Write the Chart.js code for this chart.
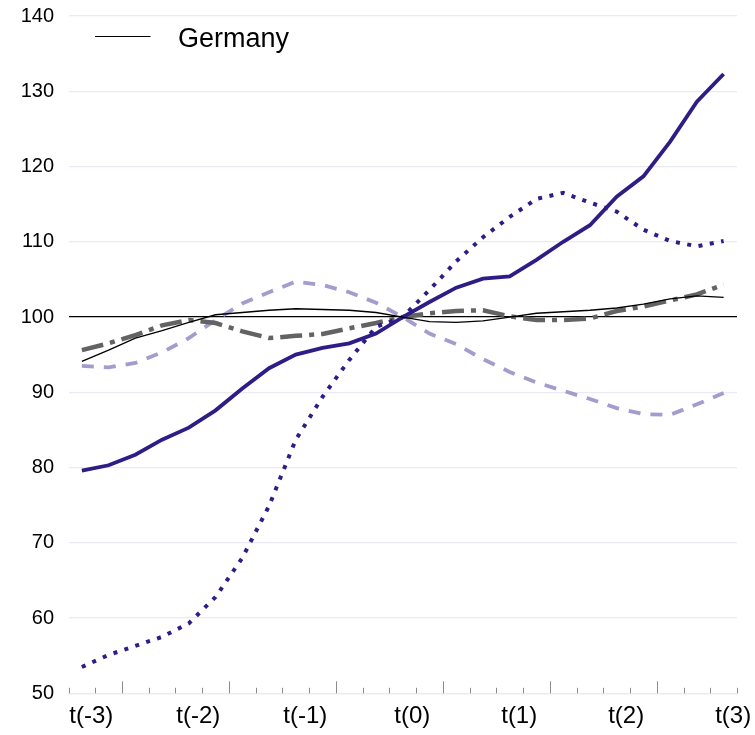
<!DOCTYPE html>
<html>
<head>
<meta charset="utf-8">
<script src="https://cdn.jsdelivr.net/npm/chart.js@4.4.1/dist/chart.umd.min.js"></script>
<style>
html,body{margin:0;padding:0;background:#ffffff;}
#wrap{width:755px;height:735px;position:relative;}
</style>
</head>
<body>
<div id="wrap"><canvas id="c" width="755" height="735"></canvas></div>
<script>
// ---- data ----
const quarters = ['q-12','q-11','q-10','q-9','q-8','q-7','q-6','q-5','q-4','q-3','q-2','q-1','q0',
                  'q1','q2','q3','q4','q5','q6','q7','q8','q9','q10','q11','q12'];
const yearLabels = ['t(-3)','t(-2)','t(-1)','t(0)','t(1)','t(2)','t(3)'];
const yTickValues = [50,60,70,80,90,100,110,120,130,140];

const germany   = [94.1, 95.6, 97.2, 98.2, 99.3, 100.3, 100.6, 100.9, 101.1, 101.0, 100.9, 100.6, 100.0,
                   99.4, 99.3, 99.5, 100.0, 100.5, 100.7, 100.9, 101.2, 101.7, 102.4, 102.8, 102.6];
const seriesSolid  = [79.6, 80.3, 81.7, 83.7, 85.3, 87.6, 90.5, 93.2, 95.0, 95.9, 96.5, 97.8, 100.0,
                   102.0, 103.9, 105.1, 105.4, 107.6, 110.0, 112.2, 116.0, 118.7, 123.3, 128.6, 132.3];
const seriesDotted = [53.5, 55.1, 56.3, 57.5, 59.3, 62.8, 68.0, 74.9, 83.7, 89.4, 94.3, 98.7, 100.0,
                   103.6, 107.4, 110.6, 113.3, 115.7, 116.5, 115.2, 114.0, 111.6, 110.1, 109.4, 110.1];
const seriesDashDot = [95.6, 96.5, 97.6, 98.9, 99.6, 99.2, 98.1, 97.2, 97.5, 97.75, 98.5, 99.2, 100.0,
                   100.5, 100.8, 100.9, 100.1, 99.6, 99.6, 99.8, 100.8, 101.4, 102.2, 103.0, 104.3];
const seriesDashed = [93.5, 93.3, 93.9, 95.3, 97.2, 99.6, 101.8, 103.3, 104.7, 104.25, 103.3, 101.9, 100.0,
                   97.8, 96.4, 94.4, 92.7, 91.3, 90.2, 89.1, 87.9, 87.1, 87.0, 88.4, 89.9];

// ---- styles ----
const FONT = "'Liberation Sans', Arial, Helvetica, sans-serif";
const NAVY = '#2e1d87';
const LILAC = '#a49ccd';
const GREY = '#636363';
const GRID = '#ebe9f4';

// legend swatch: a short thin line
const swatch = document.createElement('canvas');
swatch.width = 70; swatch.height = 13;
(function(){
  const g = swatch.getContext('2d');
  g.strokeStyle = '#000'; g.lineWidth = 1.2;
  g.beginPath(); g.moveTo(0, 3.5); g.lineTo(56, 3.5); g.stroke();
})();

const tickMarks = {
  id: 'tickMarks',
  afterDraw(chart) {
    const xs = chart.scales.x;
    const ctx = chart.ctx;
    const base = chart.chartArea.bottom;
    ctx.save();
    ctx.strokeStyle = '#8c8c8c';
    ctx.lineWidth = 1;
    for (let k = 0; k <= quarters.length; k++) {
      const px = Math.round(xs.getPixelForValue(k - 0.5)) + 0.5;
      const len = (k % 4 === 2) ? 12 : 5.5;
      ctx.beginPath();
      ctx.moveTo(px, base);
      ctx.lineTo(px, base - len);
      ctx.stroke();
    }
    ctx.restore();
  }
};

new Chart(document.getElementById('c'), {
  type: 'line',
  data: {
    labels: quarters,
    datasets: [
      { label: 'Germany', data: germany, borderColor: '#000', borderWidth: 1.3,
        pointRadius: 0, pointStyle: swatch, tension: 0, fill: false },
      { label: 'solid', data: seriesSolid, borderColor: NAVY, borderWidth: 3.8,
        pointRadius: 0, tension: 0, fill: false },
      { label: 'dotted', data: seriesDotted, borderColor: NAVY, borderWidth: 4,
        borderDash: [4, 7.5], borderCapStyle: 'butt', pointRadius: 0, tension: 0, fill: false },
      { label: 'dashdot', data: seriesDashDot, borderColor: GREY, borderWidth: 4.5,
        borderDash: [22, 7, 5, 7], pointRadius: 0, tension: 0, fill: false },
      { label: 'dashed', data: seriesDashed, borderColor: LILAC, borderWidth: 3.8,
        borderDash: [12, 10], pointRadius: 0, tension: 0, fill: false }
    ]
  },
  options: {
    responsive: false,
    animation: false,
    devicePixelRatio: 1,
    layout: { padding: { left: 18.5, right: 18, top: 16, bottom: 0 } },
    plugins: {
      tooltip: { enabled: false },
      legend: {
        position: 'chartArea',
        align: 'start',
        labels: {
          usePointStyle: true,
          pointStyleWidth: 70,
          padding: 26,
          color: '#000',
          font: { family: FONT, size: 27 },
          filter: (item) => item.datasetIndex === 0
        }
      }
    },
    scales: {
      x: {
        type: 'category',
        offset: true,
        grid: { display: false, drawTicks: false, offset: true },
        border: { display: true, color: GRID, width: 1.3 },
        ticks: {
          autoSkip: false, maxRotation: 0, minRotation: 0,
          padding: 9, labelOffset: 9.5, color: '#000',
          font: { family: FONT, size: 24 },
          callback: (v, i) => (i % 4 === 0 ? yearLabels[i / 4] : '')
        },
        afterFit: (s) => { s.height = 41.7; s.paddingLeft = 0; s.paddingRight = 0; }
      },
      y: {
        min: 50, max: 140,
        afterBuildTicks: (s) => { s.ticks = yTickValues.map(v => ({ value: v })); },
        grid: {
          drawTicks: false,
          color: (c) => (c.tick && c.tick.value === 100 ? '#000' : GRID),
          lineWidth: 1.3
        },
        border: { display: false },
        ticks: { padding: 14.5, color: '#000', font: { family: FONT, size: 20 } },
        afterFit: (s) => { s.width = 50; s.paddingTop = 0; s.paddingBottom = 0; }
      }
    }
  },
  plugins: [tickMarks]
});
</script>
</body>
</html>
